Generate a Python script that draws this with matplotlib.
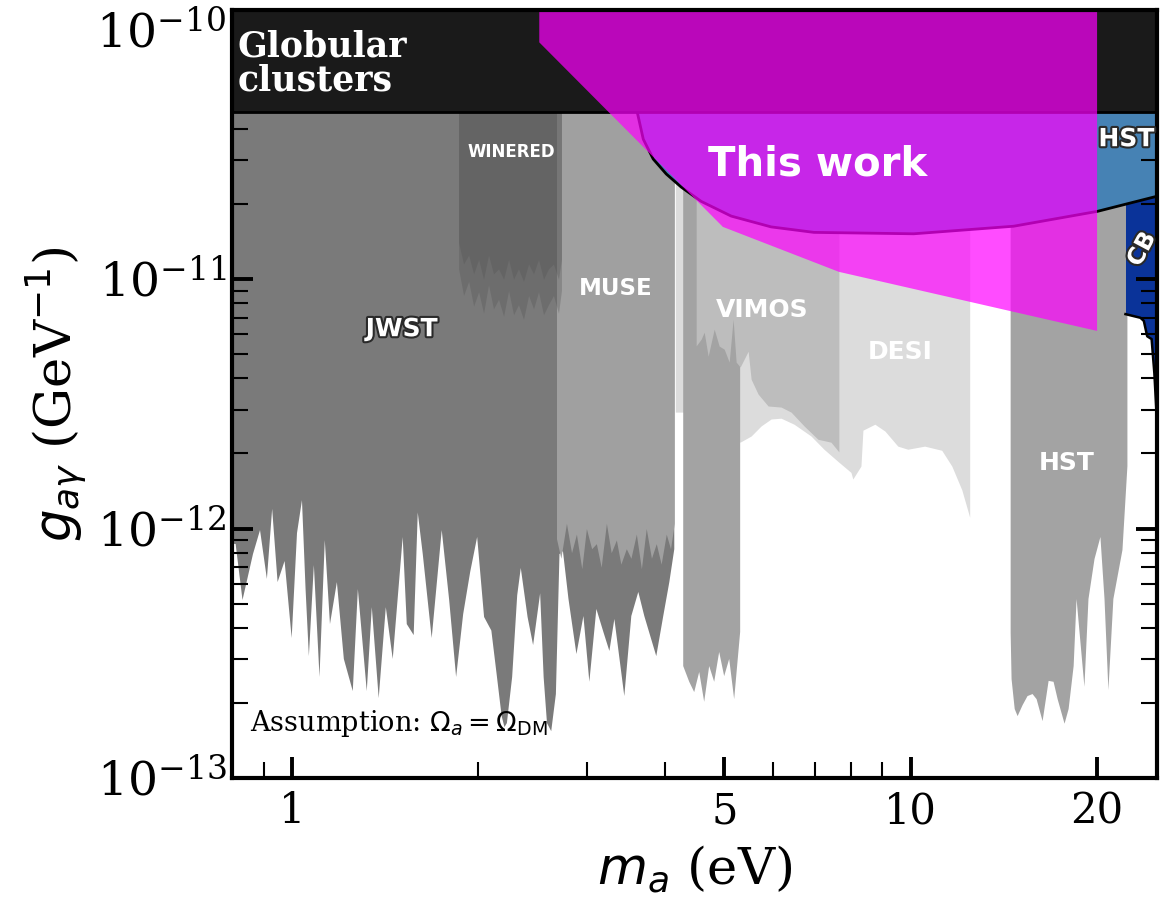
import matplotlib
matplotlib.use("Agg")
import matplotlib.pyplot as plt
import matplotlib.patheffects as pe
from matplotlib.ticker import FixedLocator, FixedFormatter, LogLocator, NullFormatter

plt.rcParams['font.family'] = ['DejaVu Serif']
plt.rcParams['mathtext.fontset'] = 'dejavusans'

# ---------------- data (m_a in eV, g in GeV^-1) ----------------
GC_BOUND = 4.7e-11
G_TOP = 1e-9

y_major = [1e-13, 1e-12, 1e-11, 1e-10]
y_minor = [k * 10.0 ** e for e in (-13, -12, -11) for k in (2, 3, 4, 5, 6, 7, 8, 9)]
x_major = [1, 5, 10, 20]
x_labels = ['1', '5', '10', '20']

jwst_m = [0.80, 0.811, 0.832, 0.865, 0.888, 0.911, 0.929, 0.948, 0.973, 0.999,
          1.019, 1.038, 1.052, 1.065, 1.085, 1.108, 1.130, 1.152, 1.182, 1.213,
          1.254, 1.278, 1.321, 1.346, 1.381, 1.418, 1.455, 1.510, 1.533, 1.573,
          1.597, 1.627, 1.682, 1.746, 1.795, 1.842, 1.891, 1.941, 1.992, 2.044,
          2.100, 2.142, 2.182, 2.205, 2.225, 2.269, 2.312, 2.343, 2.403, 2.453,
          2.518, 2.551, 2.583, 2.624, 2.670, 2.706, 2.741, 2.798, 2.882, 2.958,
          3.024, 3.104, 3.186, 3.258, 3.319, 3.444, 3.535, 3.628, 3.710, 3.879,
          3.981, 4.072, 4.148]
jwst_g = [8.7e-13, 8.67e-13, 5.17e-13, 7.90e-13, 9.86e-13, 6.28e-13, 1.20e-12, 6.10e-13, 7.41e-13, 3.64e-13,
          9.59e-13, 1.30e-12, 5.72e-13, 3.08e-13, 7.14e-13, 2.54e-13, 8.99e-13, 4.14e-13, 6.10e-13, 3.00e-13,
          2.23e-13, 5.72e-13, 2.23e-13, 4.84e-13, 2.09e-13, 4.84e-13, 3.00e-13, 9.25e-13, 4.14e-13, 3.74e-13,
          1.16e-12, 7.90e-13, 3.64e-13, 9.86e-13, 5.17e-13, 2.54e-13, 4.54e-13, 6.70e-13, 9.25e-13, 4.42e-13,
          3.90e-13, 2.60e-13, 1.77e-13, 1.60e-13, 1.66e-13, 2.54e-13, 5.40e-13, 6.95e-13, 4.42e-13, 3.41e-13,
          5.50e-13, 2.54e-13, 1.66e-13, 1.54e-13, 2.17e-13, 7.90e-13, 8.12e-13, 5.22e-13, 3.14e-13, 4.46e-13,
          2.43e-13, 4.76e-13, 3.85e-13, 3.23e-13, 4.34e-13, 2.13e-13, 4.46e-13, 5.57e-13, 4.46e-13, 3.08e-13,
          4.46e-13, 6.10e-13, 8.27e-13]

# WINERED: two overlapping layers give the faded streaky lower edge
winered_m = [1.859, 1.894, 1.930, 1.966, 2.003, 2.040, 2.078, 2.117, 2.157, 2.198, 2.239,
             2.281, 2.323, 2.367, 2.412, 2.457, 2.503, 2.550, 2.597, 2.646, 2.696, 2.726]
winered_g_shallow = [1.40e-11, 1.15e-11, 1.25e-11, 1.05e-11, 1.20e-11, 1.00e-11, 1.25e-11, 1.05e-11, 1.10e-11, 1.00e-11, 1.20e-11,
                     1.00e-11, 1.10e-11, 9.8e-12, 1.15e-11, 1.05e-11, 1.20e-11, 1.00e-11, 1.10e-11, 1.15e-11, 1.00e-11, 1.20e-11]
winered_g_deep = [1.10e-11, 8.6e-12, 9.8e-12, 7.8e-12, 8.9e-12, 7.3e-12, 9.5e-12, 7.6e-12, 8.3e-12, 7.1e-12, 9.0e-12,
                  7.2e-12, 7.9e-12, 6.9e-12, 8.6e-12, 7.6e-12, 8.9e-12, 7.2e-12, 7.9e-12, 8.6e-12, 7.3e-12, 9.0e-12]

muse1_m = [2.676, 2.72, 2.777, 2.83, 2.882, 2.94, 2.991, 3.05, 3.104, 3.16, 3.222, 3.28, 3.344,
           3.40, 3.470, 3.53, 3.602, 3.67, 3.737, 3.81, 3.879, 3.95, 4.026, 4.09, 4.148]
muse1_g = [9.1e-13, 7.6e-13, 1.05e-12, 8.0e-13, 9.5e-13, 6.9e-13, 1.0e-12, 8.3e-13, 8.7e-13, 7.0e-13, 1.05e-12, 8.0e-13, 9.0e-13,
           7.2e-13, 8.3e-13, 7.6e-13, 9.5e-13, 6.9e-13, 1.0e-12, 7.6e-13, 8.7e-13, 7.2e-13, 9.5e-13, 8.3e-13, 1.05e-12]

muse2_m = [4.288, 4.385, 4.467, 4.551, 4.636, 4.723, 4.812, 4.902, 4.994, 5.088, 5.183, 5.300]
muse2_g = [2.81e-13, 2.43e-13, 2.21e-13, 2.66e-13, 2.02e-13, 2.81e-13, 2.43e-13, 3.20e-13, 2.56e-13, 3.00e-13, 2.07e-13, 3.85e-13]

vimos_m = [4.500, 4.585, 4.636, 4.705, 4.812, 4.902, 4.994, 5.088, 5.163, 5.221, 5.300,
           5.460, 5.521, 5.666, 5.881, 6.171, 6.405, 6.722, 7.079, 7.430, 7.652]
vimos_g = [5.4e-12, 5.75e-12, 6.13e-12, 4.91e-12, 6.30e-12, 5.39e-12, 5.24e-12, 4.65e-12, 6.91e-12, 4.65e-12, 4.44e-12,
           5.14e-12, 3.97e-12, 3.46e-12, 3.10e-12, 3.07e-12, 2.93e-12, 2.58e-12, 2.28e-12, 2.22e-12, 2.03e-12]

desi_m = [4.164, 4.288, 4.75, 5.300, 5.521, 5.731, 5.947, 6.171, 6.477, 6.898, 7.239, 7.623,
          8.003, 8.06, 8.307, 8.369, 8.748, 9.082, 9.529, 9.889, 10.53, 11.22, 11.65, 12.09, 12.45]
desi_g = [2.93e-12, 2.93e-12, 2.5e-12, 2.22e-12, 2.35e-12, 2.58e-12, 2.75e-12, 2.77e-12, 2.62e-12, 2.35e-12, 2.08e-12, 1.86e-12,
          1.68e-12, 1.58e-12, 1.78e-12, 2.48e-12, 2.62e-12, 2.46e-12, 2.14e-12, 2.08e-12, 2.14e-12, 2.06e-12, 1.78e-12, 1.43e-12, 1.11e-12]

hst_m = [14.50, 14.55, 14.72, 14.88, 15.16, 15.44, 15.73, 15.97, 16.33, 16.70, 17.01, 17.27,
         17.72, 17.99, 18.33, 18.53, 19.08, 19.37, 19.81, 20.25, 20.56, 20.86, 21.25, 21.98, 22.39]
hst_g = [3.8e-13, 2.49e-13, 1.89e-13, 1.77e-13, 1.96e-13, 2.13e-13, 2.17e-13, 2.07e-13, 1.69e-13, 2.45e-13, 2.43e-13, 2.07e-13,
         1.65e-13, 1.89e-13, 2.81e-13, 5.22e-13, 2.32e-13, 5.22e-13, 7.55e-13, 9.25e-13, 5.22e-13, 2.25e-13, 5.22e-13, 8.20e-13, 1.78e-12]

hstblue_m = [3.614, 3.696, 3.836, 4.026, 4.256, 4.585, 5.126, 5.947, 6.975, 10.11, 14.66, 20.03, 25.0]
hstblue_g = [4.67e-11, 3.64e-11, 3.03e-11, 2.64e-11, 2.34e-11, 2.05e-11, 1.79e-11, 1.62e-11, 1.54e-11, 1.52e-11, 1.63e-11, 1.87e-11, 2.15e-11]

cb_m = [22.23, 23.5, 23.8, 24.1, 24.5, 24.75, 24.95, 25.0]
cb_g = [7.24e-12, 7.0e-12, 6.8e-12, 5.9e-12, 5.75e-12, 4.2e-12, 2.9e-12, 2.0e-12]

thiswork_m = [2.51, 2.51, 4.97, 7.65, 20.0, 20.0]
thiswork_g = [1e-9, 8.9e-11, 1.62e-11, 1.07e-11, 6.2e-12, 1e-9]

# ---------------- figure ----------------
fig = plt.figure(figsize=(11.61, 9.0), dpi=100)
ax = fig.add_axes([0.1998, 0.1356, 0.7968, 0.8533])
ax.set_xscale('log')
ax.set_yscale('log')
ax.set_xlim(0.8, 25)
ax.set_ylim(1e-13, 1.2e-10)

ax.fill_between(jwst_m, jwst_g, G_TOP, color='#7a7a7a', lw=0, zorder=1.0)
ax.fill_between(desi_m, desi_g, G_TOP, color='#dcdcdc', lw=0, zorder=1.1)
ax.fill_between(muse1_m, muse1_g, G_TOP, color='#a0a0a0', lw=0, zorder=1.2)
ax.fill_between(muse2_m, muse2_g, G_TOP, color='#a3a3a3', lw=0, zorder=1.2)
ax.fill_between(winered_m, winered_g_deep, G_TOP, color='#505050', alpha=0.3, lw=0, zorder=1.3)
ax.fill_between(winered_m, winered_g_shallow, G_TOP, color='#505050', alpha=0.3, lw=0, zorder=1.31)
ax.fill_between(vimos_m, vimos_g, G_TOP, color='#bdbdbd', lw=0, zorder=1.3)
ax.fill_between(hst_m, hst_g, G_TOP, color='#a3a3a3', lw=0, zorder=1.3)
ax.fill_between(cb_m, cb_g, G_TOP, color='#0a3399', lw=0, zorder=1.4)
ax.plot(cb_m, cb_g, color='k', lw=1.8, zorder=1.45)
ax.fill_between(hstblue_m, hstblue_g, G_TOP, color='#4682b4', lw=0, zorder=1.5)
ax.plot(hstblue_m, hstblue_g, color='k', lw=2.0, zorder=1.6)

ax.axhspan(GC_BOUND, G_TOP, color='#1a1a1a', lw=0, zorder=2.0)
ax.axhline(GC_BOUND, color='k', lw=2.0, zorder=2.05)

ax.fill(thiswork_m, thiswork_g, color='#ff00ff', alpha=0.7, lw=0, zorder=3)

# ---------------- text ----------------
sans = 'DejaVu Sans'
stroke = [pe.withStroke(linewidth=3, foreground='#2a2a2a')]
ax.text(0.0065, 0.93, 'Globular\nclusters', transform=ax.transAxes, ha='left', va='center',
        fontsize=25, fontweight='bold', color='white', linespacing=1.0, zorder=6)
ax.text(7.08, 2.89e-11, 'This work', ha='center', va='center', fontsize=29,
        fontweight='bold', family=sans, color='white', zorder=6)
ax.text(1.504, 6.3e-12, 'JWST', ha='center', va='center', fontsize=18, fontweight='bold',
        family=sans, color='white', path_effects=stroke, zorder=6)
ax.text(2.264, 3.23e-11, 'WINERED', ha='center', va='center', fontsize=12, fontweight='bold',
        family=sans, color='white', zorder=6)
ax.text(3.331, 9.2e-12, 'MUSE', ha='center', va='center', fontsize=16.5, fontweight='bold',
        family=sans, color='white', zorder=6)
ax.text(5.75, 7.51e-12, 'VIMOS', ha='center', va='center', fontsize=18, fontweight='bold',
        family=sans, color='white', zorder=6)
ax.text(9.60, 5.10e-12, 'DESI', ha='center', va='center', fontsize=18, fontweight='bold',
        family=sans, color='white', zorder=6)
ax.text(17.85, 1.83e-12, 'HST', ha='center', va='center', fontsize=18, fontweight='bold',
        family=sans, color='white', zorder=6)
ax.text(22.3, 3.64e-11, 'HST', ha='center', va='center', fontsize=18, fontweight='bold',
        family=sans, color='white', path_effects=stroke, zorder=6)
ax.text(23.6, 1.32e-11, 'CB', ha='center', va='center', fontsize=17, fontweight='bold',
        family=sans, color='white', rotation=62, path_effects=stroke, zorder=6)
ax.text(0.0195, 0.0703, r'Assumption: $\Omega_a = \Omega_{\rm DM}$', transform=ax.transAxes,
        ha='left', va='center', fontsize=19.5, color='k', zorder=6)

# ---------------- axes styling ----------------
ax.xaxis.set_major_locator(FixedLocator(x_major))
ax.xaxis.set_major_formatter(FixedFormatter(x_labels))
ax.xaxis.set_minor_locator(LogLocator(base=10, subs=[2, 3, 4, 6, 7, 8, 9]))
ax.xaxis.set_minor_formatter(NullFormatter())
ax.yaxis.set_major_locator(FixedLocator(y_major))
ax.yaxis.set_minor_locator(FixedLocator(y_minor))
ax.yaxis.set_minor_formatter(NullFormatter())

ax.tick_params(which='both', direction='in', top=True, right=True)
ax.tick_params(which='major', length=15, width=2.8)
ax.tick_params(which='minor', length=11.5, width=1.5)
ax.tick_params(axis='x', which='major', pad=9, labelsize=30)
ax.tick_params(axis='y', which='major', pad=4, labelsize=34)
for s in ax.spines.values():
    s.set_linewidth(3)
    s.set_zorder(4)

ax.set_xlabel(r'$m_a$ (eV)', fontsize=37, labelpad=8)
ax.set_ylabel(r'$g_{a\gamma}$ (GeV$^{-1}$)', fontsize=37, labelpad=6)

fig.savefig('out.png', dpi=100)
